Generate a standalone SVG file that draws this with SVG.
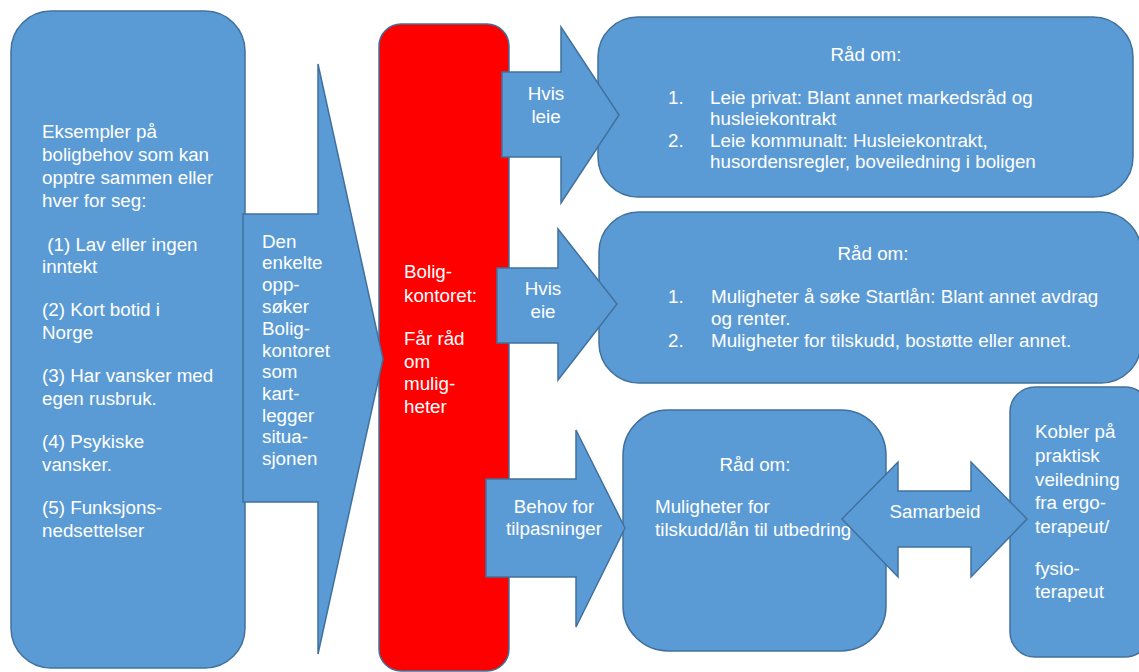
<svg xmlns="http://www.w3.org/2000/svg" width="1139" height="672" viewBox="0 0 1139 672">
<style>
.b{fill:#5b9bd5;stroke:#41719c;stroke-width:1.5}
.r{fill:#ff0000;stroke:#41719c;stroke-width:1.5}
text{font-family:"Liberation Sans",Arial,sans-serif;font-size:18.8px;fill:#ffffff}
.m{text-anchor:middle}
</style>
<rect width="1139" height="672" fill="#ffffff"/>
<g id="behov">
<rect class="b" x="11" y="11" width="234" height="657" rx="40"/>
<text x="42" y="138">Eksempler på</text>
<text x="42" y="161">boligbehov som kan</text>
<text x="42" y="184">opptre sammen eller</text>
<text x="42" y="207">hver for seg:</text>
<text x="42" y="251" xml:space="preserve"> (1) Lav eller ingen</text>
<text x="42" y="273">inntekt</text>
<text x="42" y="316">(2) Kort botid i</text>
<text x="42" y="339">Norge</text>
<text x="42" y="382">(3) Har vansker med</text>
<text x="42" y="405">egen rusbruk.</text>
<text x="42" y="448">(4) Psykiske</text>
<text x="42" y="471">vansker.</text>
<text x="42" y="514">(5) Funksjons-</text>
<text x="42" y="537">nedsettelser</text>
</g>
<g id="boligkontoret">
<rect class="r" x="379" y="24" width="130" height="647" rx="22"/>
<text x="404" y="278">Bolig-</text>
<text x="404" y="302">kontoret:</text>
<text x="404" y="345">Får råd</text>
<text x="404" y="368">om</text>
<text x="404" y="390">mulig-</text>
<text x="404" y="413">heter</text>
</g>
<g id="rad-leie">
<rect class="b" x="598" y="17" width="535" height="180" rx="40"/>
<text class="m" x="866" y="61">Råd om:</text>
<text x="668" y="104">1.</text>
<text x="710" y="104">Leie privat: Blant annet markedsråd og</text>
<text x="710" y="125">husleiekontrakt</text>
<text x="668" y="147">2.</text>
<text x="710" y="147">Leie kommunalt: Husleiekontrakt,</text>
<text x="710" y="168">husordensregler, boveiledning i boligen</text>
</g>
<g id="rad-eie">
<rect class="b" x="599" y="212" width="542" height="171" rx="40"/>
<text class="m" x="873" y="260">Råd om:</text>
<text x="668" y="303">1.</text>
<text x="711" y="303">Muligheter å søke Startlån: Blant annet avdrag</text>
<text x="711" y="325">og renter.</text>
<text x="668" y="347">2.</text>
<text x="711" y="347">Muligheter for tilskudd, bostøtte eller annet.</text>
</g>
<g id="rad-tilpasning">
<rect class="b" x="623" y="410" width="263" height="241" rx="45"/>
<text class="m" x="755" y="471">Råd om:</text>
<text x="655" y="513">Muligheter for</text>
<text x="655" y="536">tilskudd/lån til utbedring</text>
</g>
<g id="ergo">
<rect class="b" x="1010" y="387" width="140" height="270" rx="25"/>
<text x="1035" y="438">Kobler på</text>
<text x="1035" y="462">praktisk</text>
<text x="1035" y="486">veiledning</text>
<text x="1035" y="509">fra ergo-</text>
<text x="1035" y="533">terapeut/</text>
<text x="1035" y="575">fysio-</text>
<text x="1035" y="598">terapeut</text>
</g>
<g id="connectors">
<g id="arrow-oppsoker">
<polygon class="b" points="243,214 318,214 318,64 383,359 318,654 318,502 243,502"/>
<text x="262" y="248">Den</text>
<text x="262" y="269">enkelte</text>
<text x="262" y="291">opp-</text>
<text x="262" y="313">søker</text>
<text x="262" y="335">Bolig-</text>
<text x="262" y="357">kontoret</text>
<text x="262" y="378">som</text>
<text x="262" y="400">kart-</text>
<text x="262" y="422">legger</text>
<text x="262" y="443">situa-</text>
<text x="262" y="465">sjonen</text>
</g>
<g id="arrow-leie">
<polygon class="b" points="502,72 561,72 561,27 619,115 561,203 561,157 502,157"/>
<text class="m" x="546" y="100">Hvis</text>
<text class="m" x="546" y="123">leie</text>
</g>
<g id="arrow-eie">
<polygon class="b" points="497,268 558,268 558,229 617,304 558,380 558,343 497,343"/>
<text class="m" x="543" y="295">Hvis</text>
<text class="m" x="543" y="318">eie</text>
</g>
<g id="arrow-tilpasning">
<polygon class="b" points="486,479 576,479 576,430 625,528 576,627 576,577 486,577"/>
<text class="m" x="554" y="513">Behov for</text>
<text class="m" x="554" y="535">tilpasninger</text>
</g>
<g id="arrow-samarbeid">
<polygon class="b" points="842,519 898,462 898,491 971,491 971,462 1027,519 971,577 971,547 898,547 898,577"/>
<text class="m" x="935" y="518">Samarbeid</text>
</g>
</g>
</svg>
